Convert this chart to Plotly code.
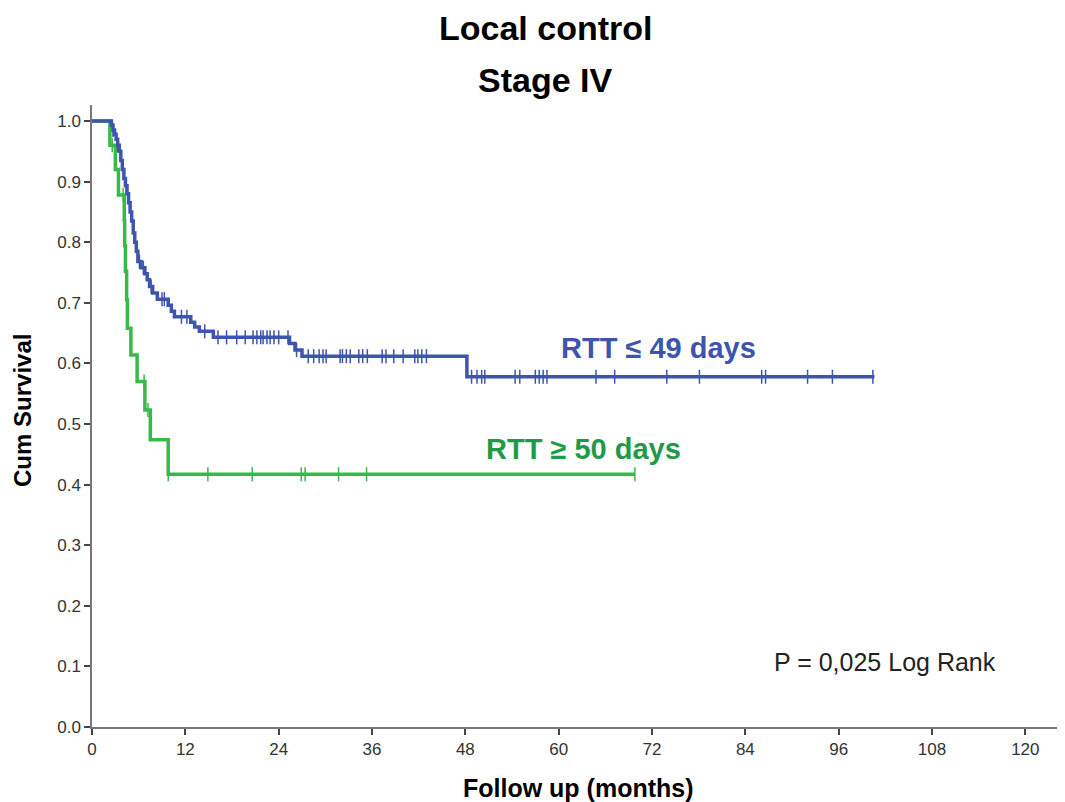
import plotly.graph_objects as go

# ---------------- data ----------------
blue_event_t = [2.5, 2.7, 2.9, 3.1, 3.3, 3.5, 3.7, 3.9, 4.1, 4.3, 4.5, 4.7, 4.9, 5.1, 5.3, 5.5, 5.7, 5.9,
                6.3, 6.8, 7.1, 7.4, 7.8, 8.4, 9.8, 10.2, 10.6, 12.7, 13.2, 13.8, 15.6, 25.4, 26.1, 27.0, 48.2]
blue_event_s = [0.993, 0.985, 0.978, 0.970, 0.960, 0.950, 0.935, 0.920, 0.905, 0.893, 0.880, 0.865, 0.850,
                0.835, 0.815, 0.800, 0.785, 0.768, 0.758, 0.748, 0.738, 0.727, 0.716, 0.706, 0.696, 0.686,
                0.677, 0.668, 0.660, 0.653, 0.643, 0.633, 0.622, 0.612, 0.578]
blue_censor_t = [2.7, 3.3, 4.4, 6.1, 6.6, 7.6, 9.0, 9.3, 11.5, 12.2, 14.5, 16.2, 17.3, 18.6, 19.7, 20.7, 21.2,
                 21.7, 22.0, 22.5, 22.9, 23.4, 24.0, 25.2, 26.3, 27.8, 28.5, 29.2, 29.7, 30.1, 31.9, 32.2,
                 32.7, 33.2, 34.3, 34.8, 35.4, 37.3, 37.8, 38.8, 40.0, 41.5, 41.9, 42.4, 43.0, 48.8, 49.5,
                 50.1, 50.5, 54.4, 55.0, 57.0, 57.5, 58.0, 58.5, 64.8, 67.2, 73.9, 78.1, 86.1, 86.6, 92.0,
                 95.2, 100.4]
blue_end = 100.6

green_event_t = [2.3, 3.0, 3.4, 4.15, 4.2, 4.3, 4.45, 4.55, 5.0, 5.8, 6.8, 7.5, 9.8]
green_event_s = [0.96, 0.92, 0.878, 0.836, 0.794, 0.752, 0.705, 0.658, 0.614, 0.570, 0.523, 0.474, 0.417]
green_censor_t = [2.6, 4.0, 6.7, 7.2, 9.8, 14.9, 20.6, 26.9, 27.4, 31.7, 35.3, 69.8]
green_end = 69.8

x_ticks = [0, 12, 24, 36, 48, 60, 72, 84, 96, 108, 120]
y_ticks = [0.0, 0.1, 0.2, 0.3, 0.4, 0.5, 0.6, 0.7, 0.8, 0.9, 1.0]

BLUE = "#3D55AC"
GREEN = "#38B94A"
GREEN_TXT = "#1F9A48"


def step_xy(ev_t, ev_s, end):
    xs = [0.0] + list(ev_t) + [end]
    ys = [1.0] + list(ev_s) + [ev_s[-1]]
    return xs, ys


def surv_at(t, ev_t, ev_s):
    s = 1.0
    for et, es in zip(ev_t, ev_s):
        if et <= t:
            s = es
    return s


fig = go.Figure()
for ev_t, ev_s, cens, end, col in [
    (green_event_t, green_event_s, green_censor_t, green_end, GREEN),
    (blue_event_t, blue_event_s, blue_censor_t, blue_end, BLUE),
]:
    xs, ys = step_xy(ev_t, ev_s, end)
    fig.add_trace(go.Scatter(x=xs, y=ys, mode="lines", line=dict(color=col, width=3.5, shape="hv"),
                             showlegend=False, hoverinfo="skip"))
    fig.add_trace(go.Scatter(x=cens, y=[surv_at(t, ev_t, ev_s) for t in cens], mode="markers",
                             marker=dict(symbol="line-ns", size=10, line=dict(color=col, width=1.5)),
                             showlegend=False, hoverinfo="skip"))

FONT = "Liberation Sans, Arial, sans-serif"

# page body has an 8px default margin, so the figure is 8px smaller and margins are shifted
fig.update_layout(
    width=1057, height=794,
    margin=dict(l=84, r=0, t=97, b=75),
    paper_bgcolor="white", plot_bgcolor="white",
    font=dict(family=FONT, color="#222"),
    xaxis=dict(range=[0, 125.1], tickvals=x_ticks, ticktext=[str(v) for v in x_ticks],
               showgrid=False, zeroline=False, showline=True, linecolor="#777", linewidth=1.5,
               ticks="outside", ticklen=6, tickcolor="#444", tickwidth=1.5,
               tickfont=dict(size=17, color="#333", family=FONT)),
    yaxis=dict(range=[0, 1.0264], tickvals=y_ticks, ticktext=[f"{v:.1f}" for v in y_ticks],
               showgrid=False, zeroline=False, showline=True, linecolor="#777", linewidth=1.5,
               ticks="outside", ticklen=6, tickcolor="#444", tickwidth=1.5,
               tickfont=dict(size=17, color="#333", family=FONT)),
)

annots = [
    dict(text="<b>Local control</b>", x=0.4656, y=1.1238, xref="paper", yref="paper",
         font=dict(size=34, color="black")),
    dict(text="<b>Stage IV</b>", x=0.4656, y=1.040, xref="paper", yref="paper",
         font=dict(size=34, color="black")),
    dict(text="<b>Follow up (months)</b>", x=0.4995, y=-0.098, xref="paper", yref="paper",
         font=dict(size=25, color="black")),
    dict(text="<b>Cum Survival</b>", x=-0.072, y=0.5096, xref="paper", yref="paper", textangle=-90,
         font=dict(size=24, color="black")),
    dict(text="<b>RTT \u2264 49 days</b>", x=72.8, y=0.625, xref="x", yref="y",
         font=dict(size=29, color=BLUE)),
    dict(text="<b>RTT \u2265 50 days</b>", x=63.2, y=0.459, xref="x", yref="y",
         font=dict(size=29, color=GREEN_TXT)),
    dict(text="P = 0,025 Log Rank", x=102.0, y=0.107, xref="x", yref="y",
         font=dict(size=25, color="#222")),
]
for a in annots:
    a.update(showarrow=False, xanchor="center", yanchor="middle")
    fig.add_annotation(**a)

fig.write_html("out.html")
